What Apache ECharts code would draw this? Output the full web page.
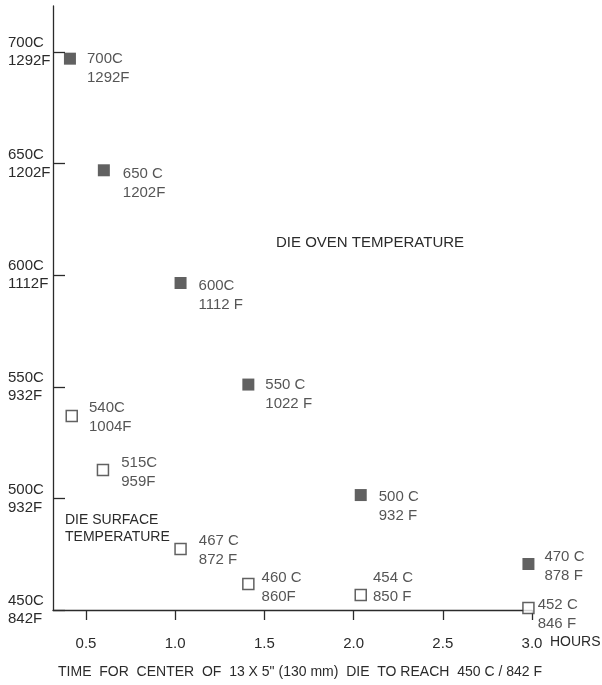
<!DOCTYPE html>
<html>
<head>
<meta charset="utf-8">
<script src="https://cdn.jsdelivr.net/npm/echarts@6/dist/echarts.min.js"></script>
<style>
  html, body { margin: 0; padding: 0; background: #fff; }
  #chart { width: 602px; height: 685px; }
</style>
</head>
<body>
<div id="chart"></div>
<script>
// die oven temperature (filled squares)
var ovenHours = [0.41, 0.60, 1.03, 1.41, 2.04, 2.98];
var ovenTemp = [697, 647, 596.5, 551, 501.5, 470.6];
var ovenLabels = ['700C\n1292F', '650 C\n1202F', '600C\n1112 F', '550 C\n1022 F', '500 C\n932 F', '470 C\n878 F'];

// die surface temperature (open squares)
var surfaceHours = [0.42, 0.595, 1.03, 1.41, 2.04, 2.98];
var surfaceTemp = [536.9, 512.7, 477.3, 461.6, 456.7, 450.9];
var surfaceLabels = ['540C\n1004F', '515C\n959F', '467 C\n872 F', '460 C\n860F', '454 C\n850 F', '452 C\n846 F'];

// axis ticks
var xTickValues = [0.5, 1.0, 1.5, 2.0, 2.5, 3.0];
var xTickLabels = ['0.5', '1.0', '1.5', '2.0', '2.5', '3.0'];
var yTickValues = [450, 500, 550, 600, 650, 700];
var yTickLabels = ['450C\n842F', '500C\n932F', '550C\n932F', '600C\n1112F', '650C\n1202F', '700C\n1292F'];

// label placement next to each marker [dx, dy]
var ovenShift = [[11, 10], [13, 13], [12, 12], [11, 10], [12, 11], [10, 2]];
var surfaceShift = [[11, 1.5], [12, 2.5], [12, 1.5], [7, 3], [6, -7.5], [3, 6]];

var ink = '#2b2b2b';
var labelFont = "'Liberation Sans Narrow', 'Arial Narrow', 'Liberation Sans', Arial, sans-serif";
var axisFont = "'Liberation Sans', Arial, sans-serif";

function buildPoints(xs, ys, labels, shifts) {
  var out = [];
  for (var i = 0; i < xs.length; i++) {
    out.push({
      value: [xs[i], ys[i]],
      label: {
        formatter: labels[i],
        offset: shifts[i]
      }
    });
  }
  return out;
}

var chart = echarts.init(document.getElementById('chart'));

var pointLabel = {
  show: true,
  position: 'right',
  distance: 0,
  color: ink,
  fontFamily: labelFont,
  fontSize: 15,
  lineHeight: 19,
  align: 'left'
};

var option = {
  backgroundColor: '#fff',
  animation: false,
  grid: {
    left: 53,
    right: 70,
    top: 6,
    bottom: 75,
    containLabel: false,
    outerBoundsMode: 'none'
  },
  xAxis: {
    type: 'value',
    min: 0.315,
    max: 3.0,
    name: 'TIME  FOR  CENTER  OF  13 X 5" (130 mm)  DIE  TO REACH  450 C / 842 F',
    nameLocation: 'middle',
    nameGap: 55,
    nameTextStyle: {
      color: ink,
      fontFamily: axisFont,
      fontSize: 14,
      padding: [0, 0, 0, 15]
    },
    axisLine: { show: true, lineStyle: { color: ink, width: 1.3 } },
    axisTick: {
      show: true,
      inside: false,
      length: 10,
      customValues: xTickValues,
      lineStyle: { color: ink, width: 1.3 }
    },
    axisLabel: {
      customValues: xTickValues,
      margin: 26,
      color: ink,
      fontFamily: axisFont,
      fontSize: 15,
      formatter: function (v) {
        var i = xTickValues.indexOf(v);
        return i >= 0 ? xTickLabels[i] : '';
      }
    },
    splitLine: { show: false }
  },
  yAxis: {
    type: 'value',
    min: 450,
    max: 720.6,
    axisLine: { show: true, lineStyle: { color: ink, width: 1.3 } },
    axisTick: {
      show: true,
      inside: true,
      length: 12,
      customValues: yTickValues,
      lineStyle: { color: ink, width: 1.3 }
    },
    axisLabel: {
      customValues: yTickValues,
      align: 'left',
      margin: 45,
      color: ink,
      fontFamily: axisFont,
      fontSize: 15,
      lineHeight: 18,
      formatter: function (v) {
        var i = yTickValues.indexOf(v);
        return i >= 0 ? yTickLabels[i] : '';
      }
    },
    splitLine: { show: false }
  },
  graphic: [
    {
      type: 'text',
      left: 550,
      top: 635,
      style: { text: 'HOURS', fill: ink, font: '14px ' + axisFont }
    },
    {
      type: 'text',
      left: 276,
      top: 235,
      style: { text: 'DIE OVEN TEMPERATURE', fill: ink, font: '15px ' + axisFont }
    },
    {
      type: 'text',
      left: 65,
      top: 512,
      style: { text: 'DIE SURFACE\nTEMPERATURE', fill: ink, font: '14px ' + axisFont, lineHeight: 17 }
    }
  ],
  series: [
    {
      name: 'Die oven temperature',
      type: 'scatter',
      symbol: 'rect',
      symbolSize: 12,
      itemStyle: { color: '#3a3a3a' },
      label: pointLabel,
      data: buildPoints(ovenHours, ovenTemp, ovenLabels, ovenShift)
    },
    {
      name: 'Die surface temperature',
      type: 'scatter',
      symbol: 'rect',
      symbolSize: 11,
      itemStyle: { color: '#fff', borderColor: '#3a3a3a', borderWidth: 1.5 },
      label: pointLabel,
      data: buildPoints(surfaceHours, surfaceTemp, surfaceLabels, surfaceShift)
    }
  ]
};

chart.setOption(option);
</script>
</body>
</html>
